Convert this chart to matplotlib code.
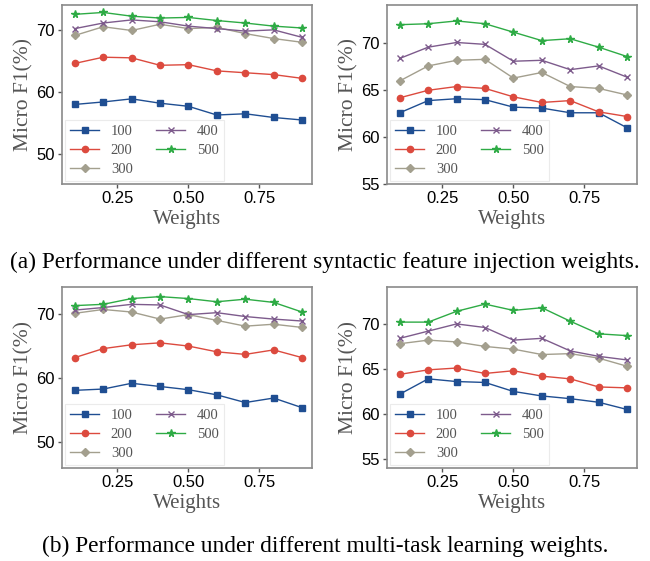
#!/usr/bin/env python3
"""Micro F1 vs. weights, four panels with captions."""

import matplotlib

matplotlib.use("Agg")
import matplotlib.pyplot as plt

weights = [0.1, 0.2, 0.3, 0.4, 0.5, 0.6, 0.7, 0.8, 0.9]
series_names = ["100", "200", "300", "400", "500"]

# (a) syntactic feature injection weights
a_left_100 = [58.0, 58.4, 58.9, 58.2, 57.7, 56.3, 56.5, 55.9, 55.5]
a_left_200 = [64.6, 65.6, 65.5, 64.3, 64.4, 63.4, 63.1, 62.8, 62.2]
a_left_300 = [69.1, 70.5, 69.9, 70.9, 70.2, 70.4, 69.4, 68.6, 68.0]
a_left_400 = [70.2, 71.1, 71.6, 71.3, 70.6, 70.2, 69.8, 70.0, 68.8]
a_left_500 = [72.5, 72.8, 72.2, 71.9, 72.0, 71.5, 71.1, 70.6, 70.3]

a_right_100 = [62.6, 63.9, 64.1, 64.0, 63.2, 63.1, 62.6, 62.6, 61.0]
a_right_200 = [64.2, 65.0, 65.4, 65.2, 64.3, 63.7, 63.9, 62.7, 62.2]
a_right_300 = [66.0, 67.6, 68.2, 68.3, 66.3, 66.9, 65.4, 65.2, 64.5]
a_right_400 = [68.4, 69.6, 70.1, 69.9, 68.1, 68.2, 67.2, 67.6, 66.4]
a_right_500 = [72.0, 72.1, 72.4, 72.1, 71.2, 70.3, 70.5, 69.6, 68.6]

# (b) multi-task learning weights
b_left_100 = [58.1, 58.3, 59.2, 58.7, 58.2, 57.4, 56.2, 56.9, 55.4]
b_left_200 = [63.2, 64.6, 65.2, 65.5, 65.0, 64.1, 63.7, 64.4, 63.2]
b_left_300 = [70.1, 70.7, 70.3, 69.2, 69.9, 69.0, 68.1, 68.4, 67.9]
b_left_400 = [70.6, 71.0, 71.5, 71.4, 69.9, 70.2, 69.6, 69.2, 68.9]
b_left_500 = [71.3, 71.5, 72.4, 72.7, 72.4, 71.9, 72.3, 71.8, 70.3]

b_right_100 = [62.2, 63.9, 63.6, 63.5, 62.5, 62.0, 61.7, 61.3, 60.5]
b_right_200 = [64.4, 64.9, 65.1, 64.5, 64.8, 64.2, 63.9, 63.0, 62.9]
b_right_300 = [67.8, 68.2, 68.0, 67.5, 67.2, 66.6, 66.7, 66.2, 65.3]
b_right_400 = [68.4, 69.2, 70.0, 69.6, 68.2, 68.4, 67.0, 66.4, 66.0]
b_right_500 = [70.2, 70.2, 71.4, 72.2, 71.5, 71.8, 70.3, 68.9, 68.7]

colors = ["#1f4e92", "#dc4a3e", "#a39f8e", "#7d5b8c", "#2eab45"]
markers = ["s", "o", "D", "x", "*"]
marker_sizes = [4.5, 4.5, 4.5, 5, 5.5]

panels = [
    # (rect in pixels: left, top, right, bottom), data, ylim, yticks
    ((62, 5, 312, 184), [a_left_100, a_left_200, a_left_300, a_left_400, a_left_500], (45.2, 74.0), [50, 60, 70]),
    ((387, 5, 637, 184), [a_right_100, a_right_200, a_right_300, a_right_400, a_right_500], (55.0, 74.1), [55, 60, 65, 70]),
    ((62, 287, 312, 468), [b_left_100, b_left_200, b_left_300, b_left_400, b_left_500], (46.0, 74.2), [50, 60, 70]),
    ((387, 287, 637, 468), [b_right_100, b_right_200, b_right_300, b_right_400, b_right_500], (54.0, 74.1), [55, 60, 65, 70]),
]

captions = [
    "(a) Performance under different syntactic feature injection weights.",
    "(b) Performance under different multi-task learning weights.",
]

W, H = 650, 561
fig = plt.figure(figsize=(W / 100, H / 100), dpi=100)

serif = ["Liberation Serif", "DejaVu Serif"]
sans = ["Liberation Sans", "DejaVu Sans"]

for (l, t, r, b), data, ylim, yticks in panels:
    ax = fig.add_axes([l / W, 1 - b / H, (r - l) / W, (b - t) / H])
    for vals, name, c, m, ms in zip(data, series_names, colors, markers, marker_sizes):
        ax.plot(weights, vals, color=c, marker=m, markersize=ms, linewidth=1.0, label=name)
    ax.set_xlim(0.055, 0.935)
    ax.set_ylim(*ylim)
    ax.set_xticks([0.25, 0.50, 0.75])
    ax.set_xticklabels(["0.25", "0.50", "0.75"], family=sans, fontsize=12)
    ax.set_yticks(yticks)
    ax.set_yticklabels([str(v) for v in yticks], family=sans, fontsize=12)
    ax.tick_params(length=3, width=1, color="#555555", pad=2)
    for sp in ax.spines.values():
        sp.set_color("#8a8a8a")
        sp.set_linewidth(1.2)
    ax.set_xlabel("Weights", family=serif, fontsize=15, color="#555555", labelpad=3)
    ax.set_ylabel("Micro F1(%)", family=serif, fontsize=15.5, color="#555555", labelpad=2)
    leg = ax.legend(loc="lower left", ncol=2, prop={"family": serif, "size": 10.5},
                    frameon=True, fancybox=False, borderaxespad=0.2, borderpad=0.35,
                    handlelength=2.0, labelspacing=0.4, columnspacing=1.6)
    leg.get_frame().set_edgecolor("#e6e6e6")
    leg.get_frame().set_linewidth(0.8)
    for txt in leg.get_texts():
        txt.set_color("#555555")

fig.text(0.5, 1 - 262 / H, captions[0], ha="center", va="center", family=serif, fontsize=16.8)
fig.text(0.5, 1 - 546 / H, captions[1], ha="center", va="center", family=serif, fontsize=16.8)

fig.savefig("out.png", dpi=100)
